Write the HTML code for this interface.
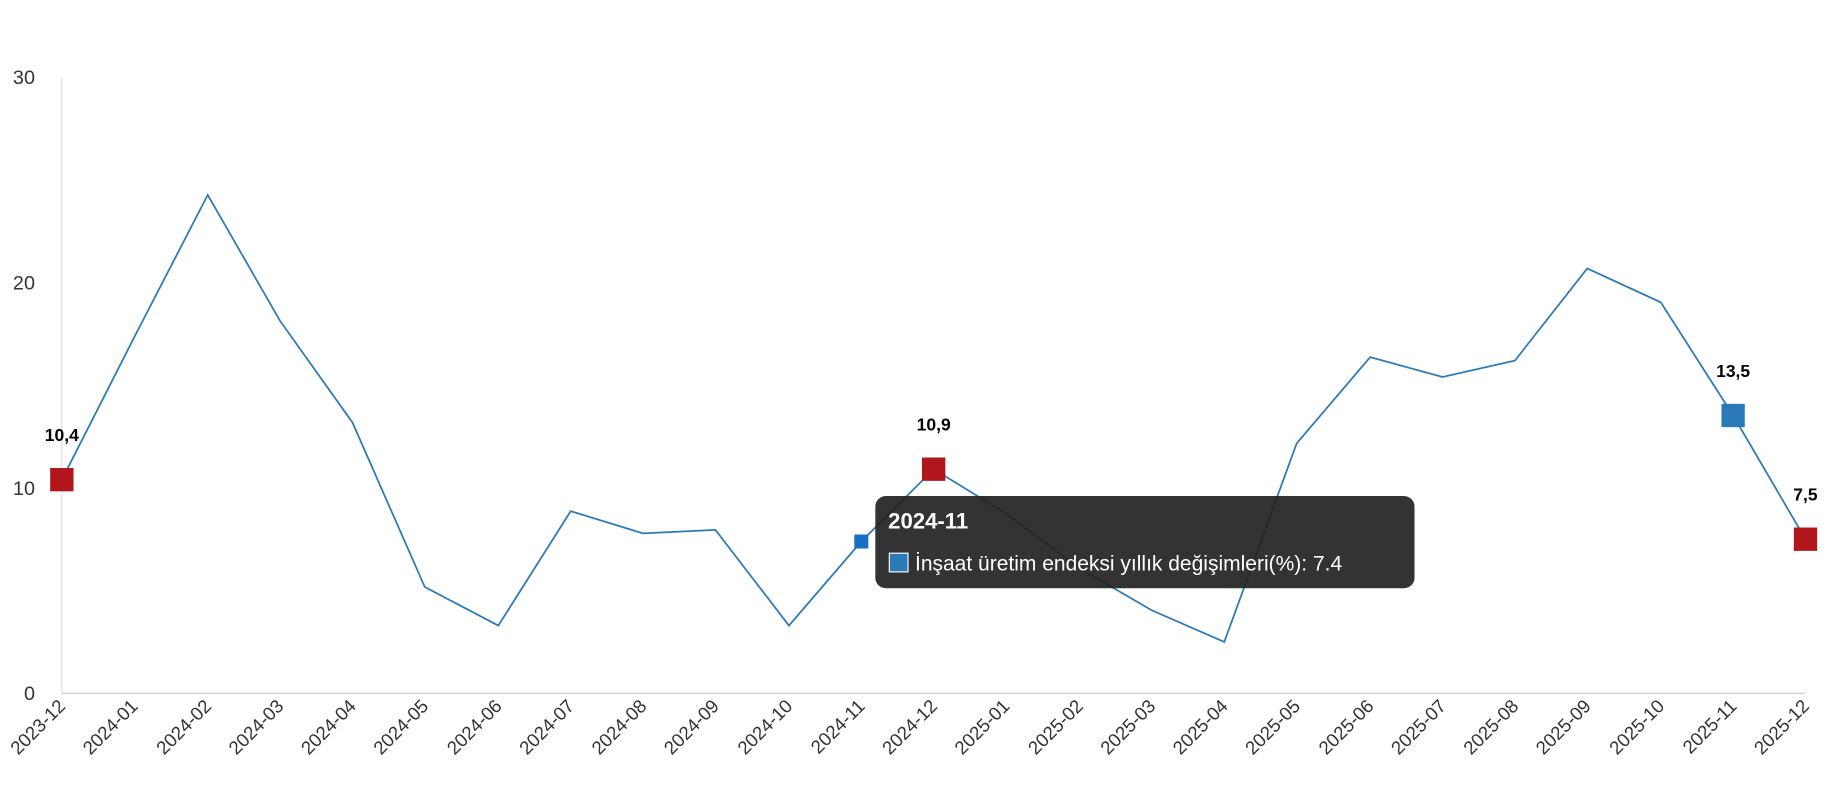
<!DOCTYPE html>
<html><head><meta charset="utf-8"><style>
html,body{margin:0;padding:0;background:#fff;width:1830px;height:800px;overflow:hidden;}
svg{display:block;font-family:"Liberation Sans",sans-serif;}
</style></head><body>
<svg width="1830" height="800" viewBox="0 0 1830 800" xmlns="http://www.w3.org/2000/svg">
<g transform="scale(1.16709)">
<line x1="53" y1="66" x2="53" y2="594" stroke="#ddd"/>
<line x1="53" y1="594" x2="1547" y2="594" stroke="#ccc"/>
<g font-size="17" fill="#333" text-anchor="end">
<text x="30" y="72">30</text><text x="30" y="248">20</text><text x="30" y="424">10</text><text x="30" y="600">0</text>
</g>
<g font-size="16" fill="#333" text-anchor="end">
<text transform="translate(57,606) rotate(-45)">2023-12</text>
<text transform="translate(119,606) rotate(-45)">2024-01</text>
<text transform="translate(182,606) rotate(-45)">2024-02</text>
<text transform="translate(244,606) rotate(-45)">2024-03</text>
<text transform="translate(306,606) rotate(-45)">2024-04</text>
<text transform="translate(368,606) rotate(-45)">2024-05</text>
<text transform="translate(431,606) rotate(-45)">2024-06</text>
<text transform="translate(493,606) rotate(-45)">2024-07</text>
<text transform="translate(555,606) rotate(-45)">2024-08</text>
<text transform="translate(617,606) rotate(-45)">2024-09</text>
<text transform="translate(680,606) rotate(-45)">2024-10</text>
<text transform="translate(742,606) rotate(-45)">2024-11</text>
<text transform="translate(804,606) rotate(-45)">2024-12</text>
<text transform="translate(866,606) rotate(-45)">2025-01</text>
<text transform="translate(929,606) rotate(-45)">2025-02</text>
<text transform="translate(991,606) rotate(-45)">2025-03</text>
<text transform="translate(1053,606) rotate(-45)">2025-04</text>
<text transform="translate(1115,606) rotate(-45)">2025-05</text>
<text transform="translate(1178,606) rotate(-45)">2025-06</text>
<text transform="translate(1240,606) rotate(-45)">2025-07</text>
<text transform="translate(1302,606) rotate(-45)">2025-08</text>
<text transform="translate(1364,606) rotate(-45)">2025-09</text>
<text transform="translate(1427,606) rotate(-45)">2025-10</text>
<text transform="translate(1489,606) rotate(-45)">2025-11</text>
<text transform="translate(1551,606) rotate(-45)">2025-12</text>
</g>
<polyline fill="none" stroke="#2a7ab8" stroke-width="1.5" points="53,411 115,289 178,167 240,275 302,362 364,503 427,536 489,438 551,457 613,454 676,536 738,464 800,402 862,440 925,487 987,523 1049,550 1111,380 1174,306 1236,323 1298,309 1360,230 1423,259 1485,356 1547,462"/>
<rect x="43" y="401" width="20" height="20" fill="#b0161b"/>
<rect x="790" y="392" width="20" height="20" fill="#b0161b"/>
<rect x="1475" y="346" width="20" height="20" fill="#2a7ab8"/>
<rect x="1537" y="452" width="20" height="20" fill="#b0161b"/>
<rect x="732" y="458" width="12" height="12" fill="#1a6fc0"/>
<g font-size="15" font-weight="bold" fill="#000" text-anchor="middle">
<text x="53" y="378">10,4</text><text x="800" y="369">10,9</text><text x="1485" y="323">13,5</text><text x="1547" y="429">7,5</text>
</g>
<rect x="750" y="425" width="462" height="79" rx="9" fill="#222" fill-opacity="0.92"/>
<text x="761" y="453" font-size="19" font-weight="bold" fill="#fff">2024-11</text>
<rect x="762" y="474" width="16" height="16" fill="#2a7ab8" stroke="#fff" stroke-width="1"/>
<text x="784" y="489" font-size="18" fill="#fff">İnşaat üretim endeksi yıllık değişimleri(%): 7.4</text>
</g>
</svg>
</body></html>
